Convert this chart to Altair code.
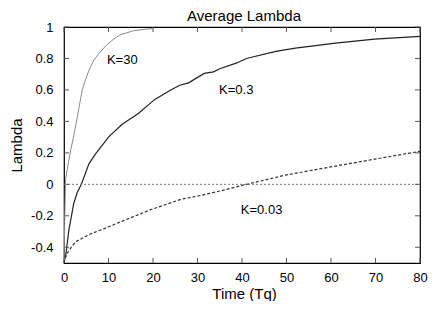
import altair as alt
import pandas as pd

FONT = "Liberation Sans"

# K=30 series
t_k30 = [0, 0.15, 0.35, 0.7, 1.1, 1.6, 2.2, 3.0, 4.1, 5.0, 6.0, 6.7, 7.8, 9.6, 11.5, 12.6, 15.6, 18.0, 20.0]
y_k30 = [-0.5, -0.25, 0.03, 0.09, 0.155, 0.23, 0.31, 0.43, 0.6, 0.68, 0.75, 0.79, 0.83, 0.887, 0.93, 0.95, 0.976, 0.985, 0.99]

# K=0.3 series
t_k03 = [0, 0.4, 1.1, 2.2, 3.0, 3.9, 5.6, 7.0, 8.1, 10.0, 13.0, 16.7, 20.4, 24.0, 26.0, 28.0, 31.5, 33.6, 35.0, 38.7, 41.0, 47.6, 52.0, 61.0, 69.8, 80.0]
y_k03 = [-0.49, -0.45, -0.29, -0.12, -0.05, 0.0, 0.13, 0.19, 0.23, 0.30, 0.38, 0.45, 0.54, 0.60, 0.63, 0.645, 0.705, 0.715, 0.735, 0.77, 0.80, 0.845, 0.866, 0.898, 0.923, 0.94]

# K=0.03 series
t_k003 = [0, 0.4, 1.1, 2.6, 5.6, 10.0, 15.2, 19.6, 26.3, 30.0, 34.4, 41.0, 49.8, 60.2, 69.8, 80.0]
y_k003 = [-0.5, -0.46, -0.42, -0.365, -0.32, -0.27, -0.21, -0.16, -0.095, -0.075, -0.047, 0.0, 0.059, 0.112, 0.16, 0.21]

# labels
label_text = ["K=30", "K=0.3", "K=0.03"]
label_t = [13.1, 38.7, 44.4]
label_y = [0.79, 0.6, -0.165]

x_ticks = [0, 10, 20, 30, 40, 50, 60, 70, 80]
y_ticks = [-0.4, -0.2, 0, 0.2, 0.4, 0.6, 0.8, 1]

W, H = 356, 236

d30 = pd.DataFrame({"t": t_k30, "y": y_k30})
d03 = pd.DataFrame({"t": t_k03, "y": y_k03})
d003 = pd.DataFrame({"t": t_k003, "y": y_k003})
dlab = pd.DataFrame({"label": label_text, "t": label_t, "y": label_y})
dxt = pd.DataFrame({"t": x_ticks})
dyt = pd.DataFrame({"y": y_ticks})
dzero = pd.DataFrame({"y": [0]})

xscale = alt.Scale(domain=[0, 80], nice=False, zero=False)
yscale = alt.Scale(domain=[-0.5, 1], nice=False, zero=False)

xaxis = alt.Axis(values=x_ticks, title="Time (Tq)", ticks=False, tickSize=0, domain=False, grid=False,
                 labelOverlap=False, labelFlush=False,
                 labelFont=FONT, labelFontSize=13, labelColor="black", labelBaseline="alphabetic",
                 labelPadding=18, titleFont=FONT, titleFontSize=15, titleFontWeight="normal",
                 titleColor="black", titleBaseline="alphabetic", titleY=35, titleX=W / 2 + 2)
yaxis = alt.Axis(values=y_ticks, title="Lambda", ticks=False, tickSize=0, domain=False, grid=False,
                 labelOverlap=False, labelFlush=False,
                 labelFont=FONT, labelFontSize=13, labelColor="black", labelPadding=11,
                 labelExpr="'' + datum.value",
                 titleFont=FONT, titleFontSize=15, titleFontWeight="normal", titleColor="black",
                 titleBaseline="alphabetic", titleX=-43, titleY=H / 2)

X = alt.X("t:Q", scale=xscale, axis=xaxis)
Y = alt.Y("y:Q", scale=yscale, axis=yaxis)

line03 = alt.Chart(d03).mark_line(color="#222", strokeWidth=1.2).encode(x=X, y=Y)

zero = alt.Chart(dzero).mark_rule(color="#777", strokeDash=[2, 2], strokeWidth=1).encode(
    y=Y, x=alt.value(0), x2=alt.value(W))

line30 = alt.Chart(d30).mark_line(color="#8a8a8a", strokeWidth=1).encode(x=X, y=Y)
line003 = alt.Chart(d003).mark_line(color="#333", strokeWidth=1.2, strokeDash=[3, 2]).encode(x=X, y=Y)

labels = alt.Chart(dlab).mark_text(font=FONT, fontSize=13, color="black", align="center", baseline="middle").encode(
    x=X, y=Y, text="label:N")

tick_color = "#555"
bottom_ticks = alt.Chart(dxt).mark_rule(color=tick_color).encode(
    x=X, y=alt.value(H), y2=alt.value(H - 5))
top_ticks = alt.Chart(dxt).mark_rule(color=tick_color).encode(
    x=X, y=alt.value(0), y2=alt.value(5))
left_ticks = alt.Chart(dyt).mark_rule(color=tick_color).encode(
    y=Y, x=alt.value(0), x2=alt.value(5))
right_ticks = alt.Chart(dyt).mark_rule(color=tick_color).encode(
    y=Y, x=alt.value(W), x2=alt.value(W - 5))

chart = alt.layer(
    line03, zero, bottom_ticks, top_ticks, left_ticks, right_ticks,
    line30, line003, labels
).properties(
    width=W, height=H,
    autosize=alt.AutoSizeParams(type="none"),
    padding={"left": 56, "top": 19, "right": 8, "bottom": 38},
    title=alt.TitleParams("Average Lambda", font=FONT, fontSize=15, fontWeight="normal",
                          color="black", baseline="alphabetic", offset=0, anchor="middle",
                          frame="group", dx=2, dy=15),
    background="white",
).configure_view(stroke="black", strokeWidth=1.2)

chart.save("out.html", embed_options={"renderer": "svg", "actions": False})
